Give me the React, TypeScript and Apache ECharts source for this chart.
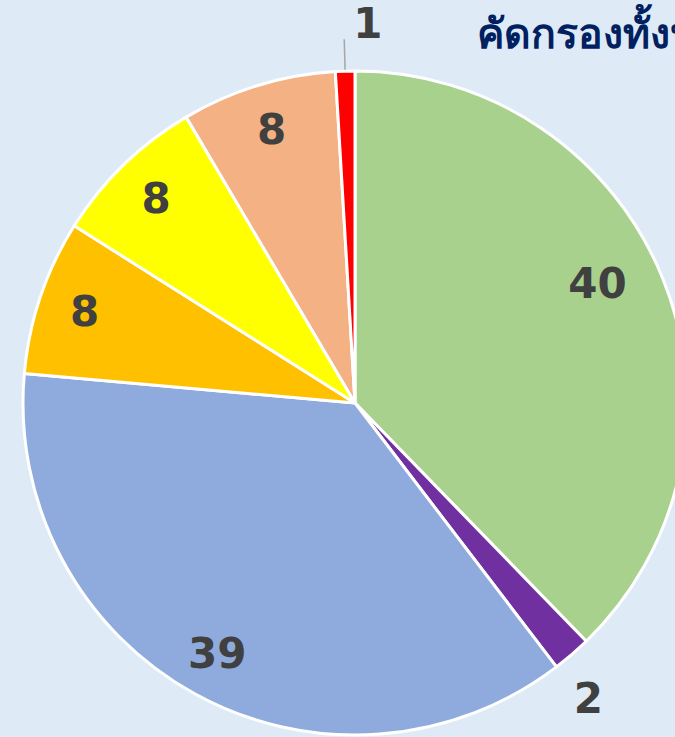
import React, { useEffect, useRef } from 'react';
import * as echarts from 'echarts';

const categories = ['Slice 1', 'Slice 2', 'Slice 3', 'Slice 4', 'Slice 5', 'Slice 6', 'Slice 7'];
const values = [40, 2, 39, 8, 8, 8, 1];
const colors = ['#A9D18E', '#7030A0', '#8FAADC', '#FFC000', '#FFFF00', '#F4B183', '#FF0000'];
const outsideLabel = [false, true, false, false, false, false, true];
const titleText = 'คัดกรองทั้งหมด';

export default function App() {
  const ref = useRef<HTMLDivElement>(null);
  useEffect(() => {
    if (!ref.current) return;
    const chart = echarts.init(ref.current, null, { renderer: 'svg' });
    const labelFont = {
      fontSize: 42,
      fontWeight: 'bold' as const,
      color: '#404040',
      fontFamily: 'DejaVu Sans',
    };
    chart.setOption({
      animation: false,
      backgroundColor: '#DEEBF7',
      title: {
        text: titleText,
        left: 472,
        top: 6,
        textStyle: { fontSize: 41, fontWeight: 900, color: '#002060', fontFamily: 'Noto Sans' },
      },
      series: [
        {
          type: 'pie',
          center: [355, 403],
          radius: 332,
          startAngle: 90,
          clockwise: true,
          silent: true,
          avoidLabelOverlap: false,
          itemStyle: { borderColor: '#FFFFFF', borderWidth: 3 },
          label: { position: 'outside', formatter: '{c}', lineHeight: 36, ...labelFont },
          labelLine: { length: 32, length2: 0, lineStyle: { color: '#A6A6A6', width: 1.5 } },
          labelLayout: (p: any) =>
            values[p.dataIndex] === 1
              ? { align: 'left', dx: 14, dy: -16 }
              : { dx: -24, dy: 20 },
          data: values.map((v, i) => ({
            name: categories[i],
            value: v,
            itemStyle: { color: colors[i] },
            label: { show: outsideLabel[i] },
            labelLine: { show: outsideLabel[i] && v === 1 },
          })),
        },
        {
          type: 'pie',
          center: [355, 403],
          radius: [245, 320],
          startAngle: 90,
          clockwise: true,
          silent: true,
          avoidLabelOverlap: false,
          itemStyle: { color: 'rgba(0,0,0,0)', borderWidth: 0 },
          label: { position: 'inside', formatter: '{c}', ...labelFont },
          labelLine: { show: false },
          labelLayout: (p: any) => (p.dataIndex === 0 ? { dx: -22, dy: -12 } : {}),
          data: values.map((v, i) => ({
            name: categories[i],
            value: v,
            label: { show: !outsideLabel[i] },
          })),
        },
      ],
    });
    return () => chart.dispose();
  }, []);
  return <div ref={ref} style={{ position: 'absolute', left: 0, top: 0, width: 675, height: 737 }} />;
}
